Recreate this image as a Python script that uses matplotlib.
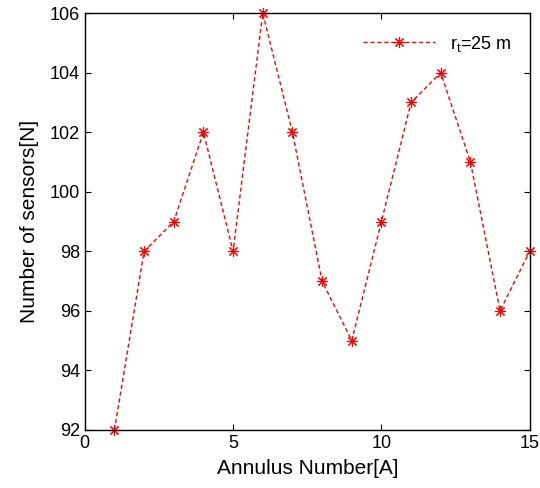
import matplotlib
matplotlib.use("Agg")
import matplotlib.pyplot as plt

plt.rcParams['font.family'] = ['Liberation Sans', 'DejaVu Sans']

annulus = [1, 2, 3, 4, 5, 6, 7, 8, 9, 10, 11, 12, 13, 14, 15]
sensors = [92, 98, 99, 102, 98, 106, 102, 97, 95, 99, 103, 104, 101, 96, 98]

fig = plt.figure(figsize=(5.4, 4.88), dpi=100)
ax = fig.add_axes([0.157, 0.119, 0.824, 0.854])

ax.plot(annulus, sensors, color='red', linestyle='--', linewidth=1,
        dashes=(3, 2), marker=(8, 2, 0), markersize=8, markeredgewidth=0.8,
        label='r$_\\mathregular{t}$=25 m', clip_on=False)

ax.set_xlim(0, 15)
ax.set_ylim(92, 106)
ax.set_xticks([0, 5, 10, 15])
ax.set_yticks(range(92, 107, 2))
ax.tick_params(direction='in', top=True, right=True, labelsize=13, length=4)
for s in ax.spines.values():
    s.set_linewidth(1)
ax.set_xlabel('Annulus Number[A]', fontsize=15, labelpad=5)
ax.set_ylabel('Number of sensors[N]', fontsize=15, labelpad=8)
ax.legend(loc='upper right', frameon=False, fontsize=13, handlelength=4.0,
          bbox_to_anchor=(0.995, 0.99))

fig.savefig('out.png', dpi=100)
